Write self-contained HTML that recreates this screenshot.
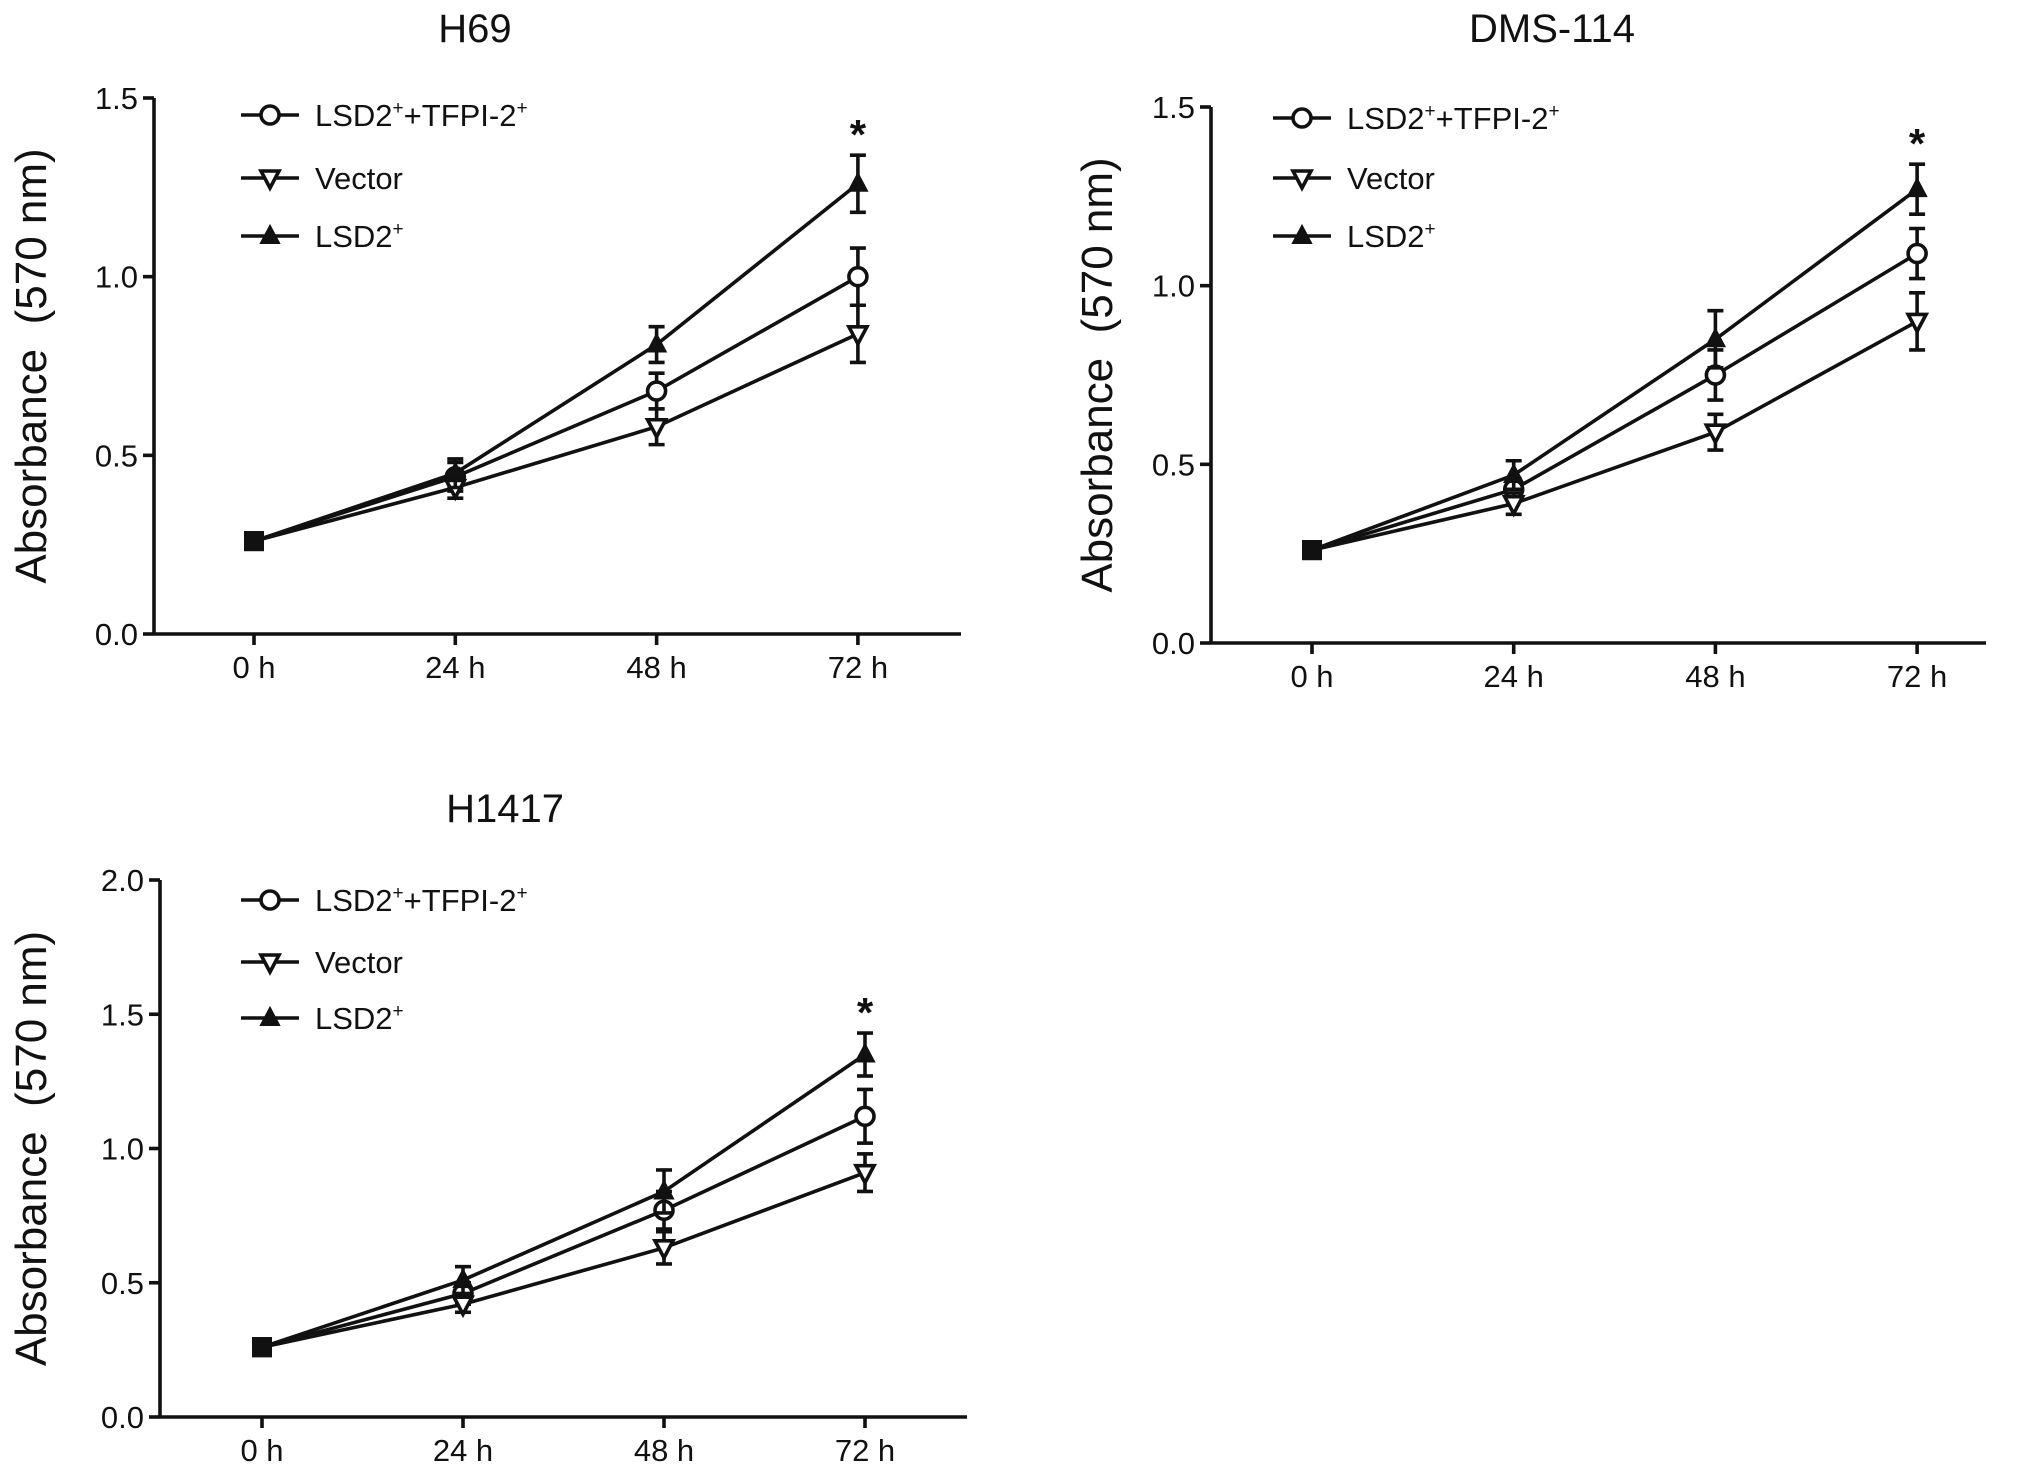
<!DOCTYPE html>
<html><head><meta charset="utf-8"><style>
html,body{margin:0;padding:0;background:#fff}
svg{display:block}
text{font-family:"Liberation Sans",Arial,sans-serif;fill:#111}
</style></head><body>
<svg id="c" width="2031" height="1468" viewBox="0 0 2031 1468" xmlns="http://www.w3.org/2000/svg"></svg>
<script>
const categories = ["0 h","24 h","48 h","72 h"];
const seriesNames = ["LSD2+TFPI-2+","Vector","LSD2+"];
// H69
const h69Combo = [0.26,0.44,0.68,1.00];
const h69ComboErr = [0.01,0.04,0.05,0.08];
const h69Vector = [0.26,0.41,0.58,0.84];
const h69VectorErr = [0.01,0.03,0.05,0.08];
const h69Lsd2 = [0.26,0.45,0.81,1.26];
const h69Lsd2Err = [0.01,0.04,0.05,0.08];
const h69Ticks = ["0.0","0.5","1.0","1.5"];
// DMS-114
const dmsCombo = [0.26,0.43,0.75,1.09];
const dmsComboErr = [0.01,0.03,0.07,0.07];
const dmsVector = [0.26,0.39,0.59,0.90];
const dmsVectorErr = [0.01,0.03,0.05,0.08];
const dmsLsd2 = [0.26,0.47,0.85,1.27];
const dmsLsd2Err = [0.01,0.04,0.08,0.07];
const dmsTicks = ["0.0","0.5","1.0","1.5"];
// H1417
const h1417Combo = [0.26,0.46,0.77,1.12];
const h1417ComboErr = [0.01,0.04,0.07,0.10];
const h1417Vector = [0.26,0.42,0.63,0.91];
const h1417VectorErr = [0.01,0.03,0.06,0.07];
const h1417Lsd2 = [0.26,0.51,0.84,1.35];
const h1417Lsd2Err = [0.01,0.05,0.08,0.08];
const h1417Ticks = ["0.0","0.5","1.0","1.5","2.0"];

const svg = document.getElementById('c');
const NS = "http://www.w3.org/2000/svg";
const SW = 3.6;
function mk(tag, attrs, parent){
  const e = document.createElementNS(NS, tag);
  for (const k in attrs) e.setAttribute(k, attrs[k]);
  (parent||svg).appendChild(e);
  return e;
}
function marker(g, type, x, y){
  let m;
  if (type===0) m = mk('circle',{cx:x,cy:y,r:9,fill:'#fff',stroke:'#111','stroke-width':SW},g);
  else if (type===1) m = mk('polygon',{points:`${x-9},${y-7} ${x+9},${y-7} ${x},${y+10}`,fill:'#fff',stroke:'#111','stroke-width':SW},g);
  else m = mk('polygon',{points:`${x-9},${y+7} ${x+9},${y+7} ${x},${y-10}`,fill:'#111',stroke:'#111','stroke-width':2},g);
  return m;
}
function panel(cfg){
  const g = mk('g',{});
  
  
  const ymax = cfg.ymax;
  const Y = v => cfg.y0 + (cfg.yTop - cfg.y0) * v / ymax;
  const X = i => cfg.xs0 + i * cfg.dx;
  const t = mk('text',{x:cfg.titleX,y:cfg.titleY,'font-size':40,'text-anchor':'middle'},g);
  t.textContent = cfg.title;
  
  
  const ya = mk('line',{x1:cfg.ax,y1:cfg.yTop,x2:cfg.ax,y2:cfg.y0,stroke:'#111','stroke-width':SW},g);
  
  
  const xa = mk('line',{x1:cfg.ax,y1:cfg.y0,x2:cfg.xEnd,y2:cfg.y0,stroke:'#111','stroke-width':SW},g);
  
  
  cfg.ticks.forEach((lab,i)=>{
    const v = parseFloat(lab);
    mk('line',{x1:cfg.ax-11,y1:Y(v),x2:cfg.ax,y2:Y(v),stroke:'#111','stroke-width':SW},g);
    const tx = mk('text',{x:cfg.ax-16,y:Y(v)+11,'font-size':31,'text-anchor':'end'},g);
    tx.textContent = lab;
    
    
  });
  categories.forEach((c,i)=>{
    mk('line',{x1:X(i),y1:cfg.y0,x2:X(i),y2:cfg.y0+11,stroke:'#111','stroke-width':SW},g);
    const tx = mk('text',{x:X(i),y:cfg.y0+44,'font-size':31,'text-anchor':'middle'},g);
    tx.textContent = c;
    
    
  });
  const yl = mk('text',{x:0,y:0,'font-size':44,'text-anchor':'middle',transform:`translate(${cfg.ylX},${(cfg.yTop+cfg.y0)/2}) rotate(-90)`},g);
  yl.textContent = 'Absorbance\u00a0\u00a0(570 nm)';
  
  
  cfg.series.forEach((s,si)=>{
    const sg = mk('g',{},g);
    
    
    const pts = s.v.map((v,i)=>X(i)+','+Y(v)).join(' ');
    mk('polyline',{points:pts,fill:'none',stroke:'#111','stroke-width':SW},sg);
    s.v.forEach((v,i)=>{
      const e = s.e[i];
      if (e>0.015){
        mk('line',{x1:X(i),y1:Y(v+e),x2:X(i),y2:Y(v-e),stroke:'#111','stroke-width':SW},sg);
        mk('line',{x1:X(i)-8,y1:Y(v+e),x2:X(i)+8,y2:Y(v+e),stroke:'#111','stroke-width':SW},sg);
        mk('line',{x1:X(i)-8,y1:Y(v-e),x2:X(i)+8,y2:Y(v-e),stroke:'#111','stroke-width':SW},sg);
      }
      if (i===0) { mk('rect',{x:X(i)-10,y:Y(v)-10,width:20,height:20,fill:'#111'},sg); }
      else { const m = marker(sg, si, X(i), Y(v));   }
    });
  });
  const top = cfg.series[2];
  const ast = mk('text',{x:X(3),y:Y(top.v[3]+top.e[3])-6,'font-size':42,'font-weight':'bold','text-anchor':'middle'},g);
  ast.textContent = '*';
  
  
  const labels = [['LSD2','+','+TFPI-2','+'],['Vector'],['LSD2','+']];
  cfg.legRows.forEach((ry,i)=>{
    const lg = mk('g',{},g);
    
    
    mk('line',{x1:cfg.legX,y1:ry,x2:cfg.legX+58,y2:ry,stroke:'#111','stroke-width':SW},lg);
    marker(lg, i, cfg.legX+29, ry);
    const tx = mk('text',{x:cfg.legX+74,y:ry+11,'font-size':31},lg);
    labels[i].forEach((p,pi)=>{
      const ts = mk('tspan',{},tx);
      if (p==='+'){ ts.setAttribute('font-size','19'); ts.setAttribute('dy','-12'); }
      else if (pi>0){ ts.setAttribute('dy','12'); }
      ts.textContent = p;
    });
  });
}
panel({name:'panel-h69',title:'H69',titleX:475,titleY:42,ax:154,yTop:98,y0:634,xEnd:961,xs0:254,dx:201.3,ymax:1.5,ticks:h69Ticks,ylX:46,legX:241,legRows:[115,178,236],
  series:[{v:h69Combo,e:h69ComboErr},{v:h69Vector,e:h69VectorErr},{v:h69Lsd2,e:h69Lsd2Err}]});
panel({name:'panel-dms114',title:'DMS-114',titleX:1552,titleY:42,ax:1211,yTop:107,y0:643,xEnd:1986,xs0:1312,dx:201.7,ymax:1.5,ticks:dmsTicks,ylX:1112,legX:1273,legRows:[118,178,236],
  series:[{v:dmsCombo,e:dmsComboErr},{v:dmsVector,e:dmsVectorErr},{v:dmsLsd2,e:dmsLsd2Err}]});
panel({name:'panel-h1417',title:'H1417',titleX:505,titleY:822,ax:160,yTop:880,y0:1417,xEnd:967,xs0:262,dx:201,ymax:2.0,ticks:h1417Ticks,ylX:46,legX:241,legRows:[900,962,1018],
  series:[{v:h1417Combo,e:h1417ComboErr},{v:h1417Vector,e:h1417VectorErr},{v:h1417Lsd2,e:h1417Lsd2Err}]});
</script>
</body></html>
